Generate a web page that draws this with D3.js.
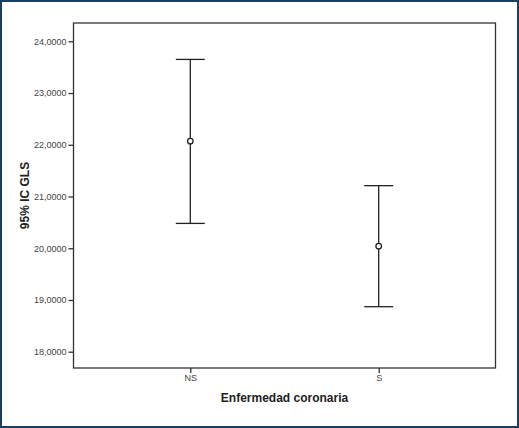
<!DOCTYPE html>
<html><head><meta charset="utf-8">
<script src="https://cdn.jsdelivr.net/npm/d3@7"></script>
<style>
html,body{margin:0;padding:0;background:#fff;}
svg{display:block;}
text{font-family:"Liberation Sans",Arial,sans-serif;}
</style></head>
<body>
<svg id="chart" width="519" height="428"></svg>
<script>
const categories = ["NS", "S"];
const means = [22.07, 20.04];
const lowers = [20.48, 18.87];
const uppers = [23.65, 21.21];
const yTicks = [18, 19, 20, 21, 22, 23, 24];
const yDomain = [17.685, 24.354];

const svg = d3.select("#chart");
const W = 519, H = 428;
const m = {left: 73.5, top: 23, right: 23.5, bottom: 60};
const pw = W - m.left - m.right, ph = H - m.top - m.bottom;

svg.append("rect").attr("x",1).attr("y",1).attr("width",W-2).attr("height",H-2)
  .attr("fill","#fff").attr("stroke","#1d3f5f").attr("stroke-width",2);

const x = d3.scalePoint().domain(categories).range([m.left, m.left+pw]).padding(0.62);
const y = d3.scaleLinear().domain(yDomain).range([m.top+ph, m.top]);

const fmt = d => d.toFixed(4).replace(".", ",");

const yAxis = svg.append("g").attr("transform",`translate(${m.left},0)`)
  .call(d3.axisLeft(y).tickValues(yTicks).tickFormat(fmt).tickSize(5).tickPadding(2));
yAxis.select(".domain").remove();
yAxis.selectAll("line").attr("stroke","#333").attr("stroke-width",1.3);
yAxis.selectAll("text").attr("font-size","9px").style("fill","#444");

const xAxis = svg.append("g").attr("transform",`translate(0,${m.top+ph})`)
  .call(d3.axisBottom(x).tickSize(5).tickPadding(2));
xAxis.select(".domain").remove();
xAxis.selectAll("line").attr("stroke","#333").attr("stroke-width",1.3);
xAxis.selectAll("text").attr("font-size","9px").style("fill","#444");

svg.append("rect").attr("x",m.left).attr("y",m.top).attr("width",pw).attr("height",ph)
  .attr("fill","none").attr("stroke","#333").attr("stroke-width",1.3);

const cap = 14.5;
const g = svg.append("g").attr("stroke","#222").attr("stroke-width",1.3).attr("fill","none");
categories.forEach((c,i) => {
  const cx = x(c);
  g.append("line").attr("x1",cx).attr("x2",cx).attr("y1",y(uppers[i])).attr("y2",y(lowers[i]));
  g.append("line").attr("x1",cx-cap).attr("x2",cx+cap).attr("y1",y(uppers[i])).attr("y2",y(uppers[i]));
  g.append("line").attr("x1",cx-cap).attr("x2",cx+cap).attr("y1",y(lowers[i])).attr("y2",y(lowers[i]));
  g.append("circle").attr("cx",cx).attr("cy",y(means[i])).attr("r",2.8).attr("fill","#fff");
});

svg.append("text").attr("x", m.left+pw/2).attr("y", 402).attr("text-anchor","middle")
  .attr("font-size","12px").attr("font-weight","bold").style("fill","#222").text("Enfermedad coronaria");
svg.append("text").attr("transform",`translate(29,${m.top+ph/2}) rotate(-90)`).attr("text-anchor","middle")
  .attr("font-size","12px").attr("font-weight","bold").style("fill","#222").text("95% IC GLS");
</script>
</body></html>
